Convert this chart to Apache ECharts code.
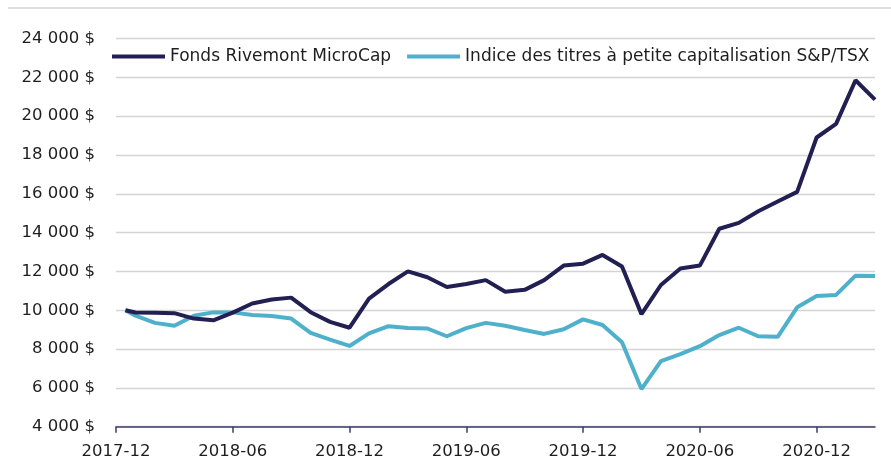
<!DOCTYPE html>
<html>
<head>
<meta charset="utf-8">
<script src="https://cdn.jsdelivr.net/npm/echarts@6/dist/echarts.min.js"></script>
<style>
  html, body { margin: 0; padding: 0; background: #fff; }
  #chart { width: 891px; height: 460px; }
</style>
</head>
<body>
<div id="chart"></div>
<script>
  // dates of each observation (month ends, first one mid-month)
  var dates = [
    '2018-01-15', '2018-01-31', '2018-02-28', '2018-03-31', '2018-04-30', '2018-05-31',
    '2018-06-30', '2018-07-31', '2018-08-31', '2018-09-30', '2018-10-31', '2018-11-30',
    '2018-12-31', '2019-01-31', '2019-02-28', '2019-03-31', '2019-04-30', '2019-05-31',
    '2019-06-30', '2019-07-31', '2019-08-31', '2019-09-30', '2019-10-31', '2019-11-30',
    '2019-12-31', '2020-01-31', '2020-02-29', '2020-03-31', '2020-04-30', '2020-05-31',
    '2020-06-30', '2020-07-31', '2020-08-31', '2020-09-30', '2020-10-31', '2020-11-30',
    '2020-12-31', '2021-01-31', '2021-02-28', '2021-03-31'
  ]
  var fonds = [
    10000, 9880, 9870, 9850, 9570, 9480, 9880, 10350, 10550, 10650, 9900, 9400,
    9100, 10600, 11350, 12000, 11700, 11200, 11350, 11550, 10950, 11050, 11550, 12300,
    12400, 12850, 12250, 9800, 11300, 12150, 12300, 14200, 14500, 15100, 15600, 16100,
    18900, 19600, 21850, 20850
  ]
  var indice = [
    10000, 9720, 9350, 9200, 9720, 9890, 9890, 9760, 9700, 9570, 8830, 8490,
    8160, 8810, 9180, 9080, 9060, 8660, 9080, 9350, 9200, 8980, 8780, 9020,
    9530, 9240, 8350, 5940, 7380, 7740, 8150, 8720, 9100, 8660, 8630, 10150,
    10730, 10790, 11780, 11760
  ]
  var xLabels = ['2017-12', '2018-06', '2018-12', '2019-06', '2019-12', '2020-06', '2020-12']
  var seriesNames = ['Fonds Rivemont MicroCap', 'Indice des titres à petite capitalisation S&P/TSX']

  // month position, 0 = end of 2017-12
  function monthPos (d) {
    var p = d.split('-')
    var y = +p[0], m = +p[1], day = +p[2]
    var dim = new Date(y, m, 0).getDate()
    return (y - 2017) * 12 + (m - 12) + day / dim - 1
  }
  function pairs (vals) {
    return vals.map(function (v, i) { return [monthPos(dates[i]), v] })
  }
  function money (v) {
    return String(v).replace(/\B(?=(\d{3})+(?!\d))/g, ' ') + ' $'
  }

  var tickVals = xLabels.map(function (l, i) { return i * 6 })
  var font = '"DejaVu Sans", "Liberation Sans", sans-serif'

  var chart = echarts.init(document.getElementById('chart'))
  var option = {
    animation: false,
    color: ['#221f52', '#4fb0cc'],
    grid: { left: 116, right: 16, top: 38.5, bottom: 33.3, outerBoundsMode: 'none', containLabel: false },
    legend: {
      left: 112,
      top: 48,
      padding: 0,
      itemWidth: 53,
      itemHeight: 4,
      itemGap: 16,
      icon: 'rect',
      data: seriesNames,
      textStyle: { color: '#1e1e1e', fontSize: 17, fontFamily: font },
    },
    graphic: [{
      type: 'rect',
      shape: { x: 8, y: 7, width: 883, height: 2 },
      style: { fill: '#dedede' },
      silent: true,
    }],
    xAxis: {
      type: 'value',
      min: 0,
      max: 39,
      splitLine: { show: false },
      axisLine: { show: true, lineStyle: { color: '#3d3b6e', width: 1.5 } },
      axisTick: { show: true, length: 6, customValues: tickVals, lineStyle: { color: '#3d3b6e', width: 1.5 } },
      axisLabel: {
        customValues: tickVals,
        margin: 17,
        color: '#1e1e1e',
        fontSize: 16.5,
        fontFamily: font,
        formatter: function (v) { return xLabels[Math.round(v / 6)] },
      },
    },
    yAxis: {
      type: 'value',
      min: 4000,
      max: 24000,
      interval: 2000,
      axisLine: { show: false },
      axisTick: { show: false },
      splitLine: { lineStyle: { color: '#d4d4d4', width: 1.3 } },
      axisLabel: {
        margin: 21,
        color: '#1e1e1e',
        fontSize: 16.5,
        fontFamily: font,
        formatter: money,
      },
    },
    series: [
      {
        name: seriesNames[0],
        type: 'line',
        data: pairs(fonds),
        symbol: 'none',
        lineStyle: { width: 4 },
        z: 3,
      },
      {
        name: seriesNames[1],
        type: 'line',
        data: pairs(indice),
        symbol: 'none',
        lineStyle: { width: 4 },
        z: 2,
      },
    ],
  }
  chart.setOption(option)
</script>
</body>
</html>
